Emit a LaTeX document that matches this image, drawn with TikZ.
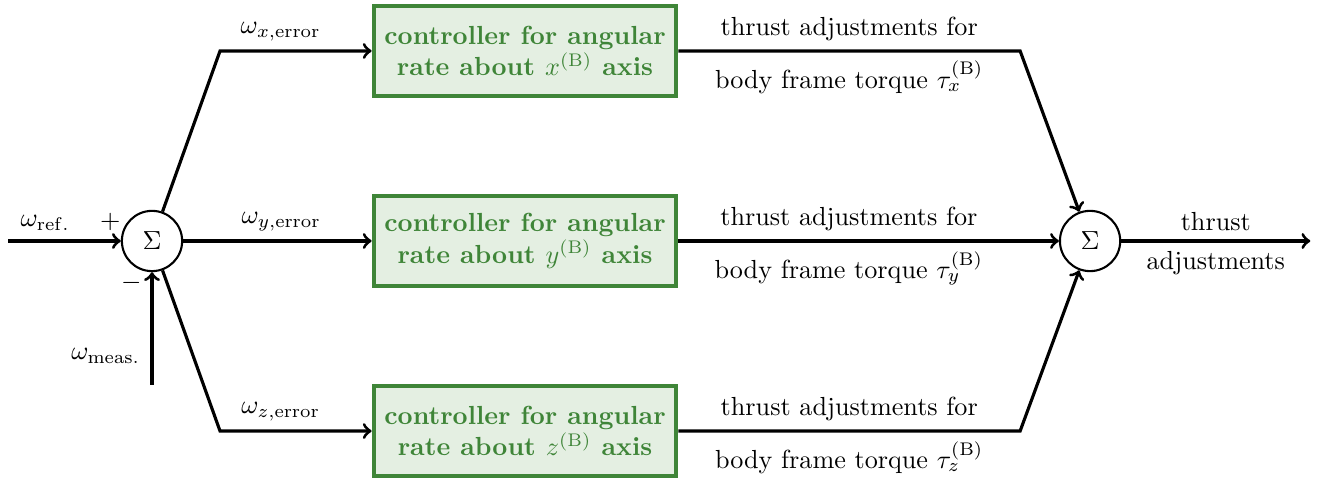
\documentclass[tikz,border=0pt]{standalone}
\usepackage{amsmath}
\usetikzlibrary{positioning}
\definecolor{ctrlgreen}{RGB}{63,133,56}
\definecolor{ctrlfill}{RGB}{228,239,226}

\begin{document}
\begin{tikzpicture}[
		signal/.style={very thick,->},
		ctrlbox/.style={draw=ctrlgreen,fill=ctrlfill,line width=1.5pt,
			text=ctrlgreen,font=\bfseries,align=center,
			minimum width=4.07cm,minimum height=1.2cm},
		sumnode/.style={draw,thick,circle,minimum size=0.81cm,inner sep=0pt}]
	\useasboundingbox (0,-3.199) rectangle (17.70,3.239);

	% The two summing junctions.
	\node[sumnode] (sumErr) at (2.043,0) {$\Sigma$};
	\node[sumnode] (sumOut) at (14.65,0) {$\Sigma$};

	% One controller per body axis.
	\node[ctrlbox] (ctrlX) at (7.056,2.554)
		{controller for angular\\ rate about $x^{(\mathrm{B})}$ axis};
	\node[ctrlbox] (ctrlY) at (7.056,0)
		{controller for angular\\ rate about $y^{(\mathrm{B})}$ axis};
	\node[ctrlbox] (ctrlZ) at (7.056,-2.554)
		{controller for angular\\ rate about $z^{(\mathrm{B})}$ axis};

	% Bends of the fan-out and fan-in lines, and the free ends.
	\coordinate (inX) at (2.957,2.554);
	\coordinate (inZ) at (2.957,-2.554);
	\coordinate (outX) at (13.71,2.554);
	\coordinate (outZ) at (13.71,-2.554);
	\coordinate (refStart) at (0.108,0);
	\coordinate (measStart) at (2.043,-1.935);
	\coordinate (outEnd) at (17.61,0);

	% Reference and measurement into the error junction.
	\draw[signal] (refStart) -- node[pos=0.33,above] {$\omega_{\mathrm{ref.}}$} (sumErr);
	\draw[signal] (measStart) -- node[pos=0.26,left=0.02cm] {$\omega_{\mathrm{meas.}}$} (sumErr);
	\node[above left=0.02cm and -0.12cm] (plusSign) at (sumErr.west) {$+$};
	\node[below left=0.02cm and -0.28cm] (minusSign) at (sumErr.south west) {$-$};

	% Errors to the controllers.
	\draw[signal] (sumErr) -- (inX) -- node[pos=0.4,above] {$\omega_{x,\mathrm{error}}$} (ctrlX);
	\draw[signal] (sumErr) -- node[pos=0.52,above] {$\omega_{y,\mathrm{error}}$} (ctrlY);
	\draw[signal] (sumErr) -- (inZ) -- node[pos=0.4,above] {$\omega_{z,\mathrm{error}}$} (ctrlZ);

	% Thrust adjustments back together.
	\draw[signal] (ctrlX) -- node[above] {thrust adjustments for}
		node[below] {body frame torque $\tau_x^{(\mathrm{B})}$} (outX) -- (sumOut);
	\draw[signal] (ctrlY) -- node[pos=0.448,above] {thrust adjustments for}
		node[pos=0.448,below] {body frame torque $\tau_y^{(\mathrm{B})}$} (sumOut);
	\draw[signal] (ctrlZ) -- node[above] {thrust adjustments for}
		node[below] {body frame torque $\tau_z^{(\mathrm{B})}$} (outZ) -- (sumOut);

	\draw[signal] (sumOut) -- node[above] {thrust} node[below] {adjustments} (outEnd);
\end{tikzpicture}
\end{document}
